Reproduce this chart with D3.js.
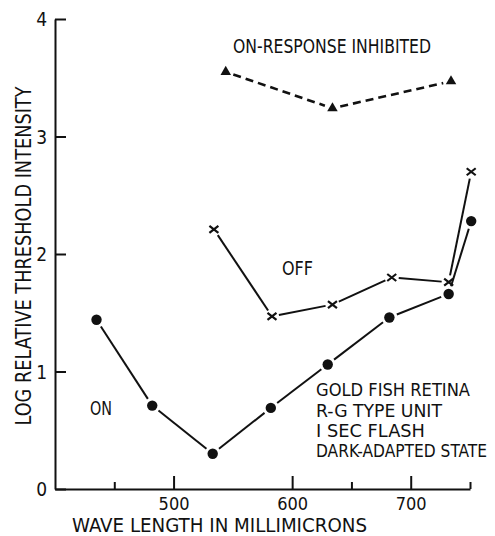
<!DOCTYPE html>
<html>
<head>
<meta charset="utf-8">
<script src="https://cdn.jsdelivr.net/npm/d3@7"></script>
<style>
body { margin: 0; background: #fff; }
svg text { font-family: "Liberation Sans Narrow", "DejaVu Sans Condensed", "DejaVu Sans", sans-serif; font-stretch: condensed; fill: #111; }
</style>
</head>
<body>
<svg id="chart" width="495" height="536"></svg>
<script>
// values (wavelength in millimicrons, log relative threshold)
var onWave = [435, 482, 533, 582, 630, 682, 732, 751];
var onVal = [1.44, 0.71, 0.30, 0.69, 1.06, 1.46, 1.66, 2.28];
var offWave = [534, 583, 634, 684, 732, 751];
var offVal = [2.21, 1.47, 1.57, 1.80, 1.76, 2.70];
var inhWave = [544, 634, 734];
var inhVal = [3.55, 3.24, 3.47];
var xMajor = [500, 600, 700];
var xMinor = [450, 650, 750];
var yTicks = [0, 1, 2, 3, 4];
var noteLines = ["GOLD FISH RETINA", "R-G TYPE UNIT", "I SEC FLASH", "DARK-ADAPTED STATE"];

var svg = d3.select("#chart");
var x = d3.scaleLinear().domain([400, 750]).range([55, 470]);
var y = d3.scaleLinear().domain([0, 4]).range([489, 19]);

function pts(ws, vs) {
    return ws.map((w, i) => {return {x: x(w), y: y(vs[i])}});
}

// axes, ticks point into the plot
var yAxis = svg.append("g").attr("transform", "translate(" + x(400) + ",0)")
    .call(d3.axisLeft(y).tickValues(yTicks).tickSizeInner(-11).tickSizeOuter(0).tickPadding(8).tickFormat(d3.format("d")));
var xAxis = svg.append("g").attr("transform", "translate(0," + y(0) + ")")
    .call(d3.axisBottom(x).tickValues(xMajor).tickSizeInner(-13).tickSizeOuter(0).tickPadding(8).tickFormat(d3.format("d")));
svg.append("g").attr("transform", "translate(0," + y(0) + ")")
    .call(d3.axisBottom(x).tickValues(xMinor).tickSizeInner(-7).tickSizeOuter(0).tickFormat(""))
    .select(".domain").remove();
svg.selectAll(".domain, .tick line").attr("stroke", "#111").attr("stroke-width", 2);
yAxis.selectAll("text").style("font-size", "19px").attr("dy", "0.36em");
xAxis.selectAll("text").style("font-size", "18px");

// lines drawn as separate segments that stop short of the markers
function segments(p, gap, dash) {
    var g = svg.append("g");
    for (var i = 0; i < p.length - 1; i++) {
        var a = p[i], b = p[i + 1];
        var dx = b.x - a.x, dy = b.y - a.y, len = Math.sqrt(dx * dx + dy * dy);
        var ux = dx / len, uy = dy / len;
        g.append("line")
            .attr("x1", a.x + ux * gap).attr("y1", a.y + uy * gap)
            .attr("x2", b.x - ux * gap).attr("y2", b.y - uy * gap)
            .attr("stroke", "#111").attr("stroke-width", dash ? 2.6 : 2)
            .attr("stroke-dasharray", dash ? "8,5" : null);
    }
}

var onPts = pts(onWave, onVal);
var offPts = pts(offWave, offVal);
var inhPts = pts(inhWave, inhVal);

segments(onPts, 8, false);
segments(offPts, 7, false);
segments(inhPts, 8, true);

svg.append("g").selectAll("circle").data(onPts).enter()
    .append("circle")
    .attr("cx", d => d.x).attr("cy", d => d.y).attr("r", 5.2).attr("fill", "#111");

svg.append("g").selectAll("path").data(offPts).enter()
    .append("path")
    .attr("d", d => "M" + (d.x - 4.5) + "," + (d.y - 3.5) + "L" + (d.x + 4.5) + "," + (d.y + 3.5) +
        "M" + (d.x - 4.5) + "," + (d.y + 3.5) + "L" + (d.x + 4.5) + "," + (d.y - 3.5))
    .attr("stroke", "#111").attr("stroke-width", 2.2).attr("fill", "none");

svg.append("g").selectAll("path").data(inhPts).enter()
    .append("path")
    .attr("d", d3.symbol().type(d3.symbolTriangle).size(48))
    .attr("transform", d => "translate(" + d.x + "," + d.y + ")")
    .attr("fill", "#111");

// axis titles
svg.append("text")
    .attr("transform", "translate(31,256) rotate(-90)")
    .attr("text-anchor", "middle")
    .attr("textLength", 339).attr("lengthAdjust", "spacingAndGlyphs")
    .style("font-size", "21px")
    .text("LOG RELATIVE THRESHOLD INTENSITY");

svg.append("text")
    .attr("x", 72).attr("y", 532)
    .attr("textLength", 295).attr("lengthAdjust", "spacingAndGlyphs")
    .style("font-size", "19px")
    .text("WAVE LENGTH IN MILLIMICRONS");

// labels inside the plot
svg.append("text")
    .attr("x", 233).attr("y", 53)
    .attr("textLength", 198).attr("lengthAdjust", "spacingAndGlyphs")
    .style("font-size", "19px")
    .text("ON-RESPONSE INHIBITED");

svg.append("text")
    .attr("x", 282).attr("y", 275)
    .attr("textLength", 31).attr("lengthAdjust", "spacingAndGlyphs")
    .style("font-size", "19px")
    .text("OFF");

svg.append("text")
    .attr("x", 90).attr("y", 415)
    .attr("textLength", 22).attr("lengthAdjust", "spacingAndGlyphs")
    .style("font-size", "19px")
    .text("ON");

var noteWidth = [154, 126, 109, 171];
var noteBase = [396, 417, 437, 457];
svg.append("g").selectAll("text").data(noteLines).enter()
    .append("text")
    .attr("x", 316)
    .attr("y", (d, i) => noteBase[i])
    .attr("textLength", (d, i) => noteWidth[i]).attr("lengthAdjust", "spacingAndGlyphs")
    .style("font-size", "18px")
    .text(d => d);
</script>
</body>
</html>
